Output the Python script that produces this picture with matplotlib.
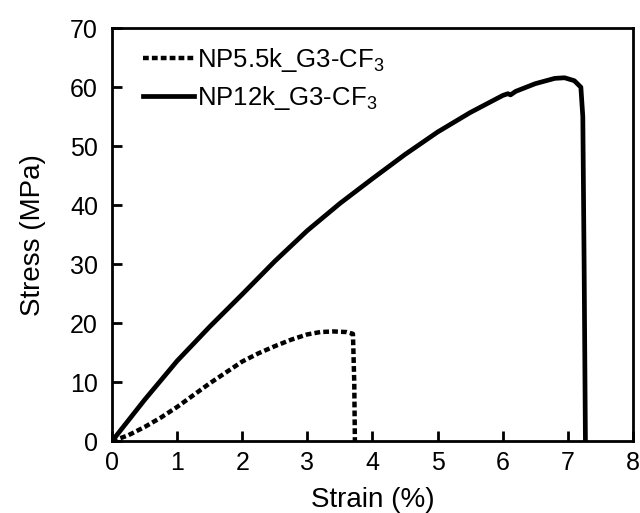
import matplotlib
matplotlib.use("Agg")
import matplotlib.pyplot as plt

plt.rcParams["font.family"] = ["Liberation Sans", "DejaVu Sans"]
plt.rcParams["mathtext.fontset"] = "custom"
plt.rcParams["mathtext.rm"] = "Liberation Sans"
plt.rcParams["mathtext.it"] = "Liberation Sans"

# NP5.5k_G3-CF3 (dashed)
strain_a = [0, 0.25, 0.5, 0.75, 1.0, 1.5, 2.0, 2.25, 2.5, 2.75, 3.0, 3.2, 3.4, 3.6, 3.7, 3.72, 3.73]
stress_a = [0, 1.0, 2.4, 4.0, 5.8, 9.8, 13.5, 14.9, 16.1, 17.2, 18.1, 18.5, 18.6, 18.5, 18.2, 10.0, 0]

# NP12k_G3-CF3 (solid)
strain_b = [0, 0.5, 1.0, 1.5, 2.0, 2.5, 3.0, 3.5, 4.0, 4.5, 5.0, 5.5, 6.0, 6.08, 6.12, 6.2,
            6.5, 6.8, 6.95, 7.1, 7.2, 7.23, 7.25, 7.27]
stress_b = [0, 7.0, 13.6, 19.4, 24.9, 30.5, 35.7, 40.3, 44.5, 48.6, 52.4, 55.7, 58.6, 58.9, 58.7, 59.3,
            60.6, 61.5, 61.6, 61.1, 60.0, 55.0, 30.0, 0]

labels = [r"NP5.5k_G3-CF$_3$", r"NP12k_G3-CF$_3$"]

fig = plt.figure(figsize=(6.4, 5.13), dpi=100)
ax = fig.add_axes([0.175, 0.140, 0.814, 0.805])

ax.plot(strain_a, stress_a, color="black", lw=3.2, linestyle=(0, (1.3, 0.7)), label=labels[0])
ax.plot(strain_b, stress_b, color="black", lw=3.4, label=labels[1], solid_joinstyle="round")

ax.set_xlim(0, 8)
ax.set_ylim(0, 70)
ax.set_xticks(range(0, 9))
ax.set_yticks(range(0, 71, 10))
ax.tick_params(direction="in", length=7, width=2, labelsize=18)
ax.tick_params(axis="x", pad=7)
ax.tick_params(axis="y", pad=10)
for s in ax.spines.values():
    s.set_linewidth(2)

ax.set_xlabel("Strain (%)", fontsize=20, labelpad=9)
ax.set_ylabel("Stress (MPa)", fontsize=20, labelpad=17)

ax.legend(loc="upper left", frameon=False, fontsize=18.5, handlelength=2.0, handletextpad=0.12,
          borderaxespad=0.3, labelspacing=0.4, bbox_to_anchor=(0.025, 1.0))

fig.savefig("out.png", dpi=100)
